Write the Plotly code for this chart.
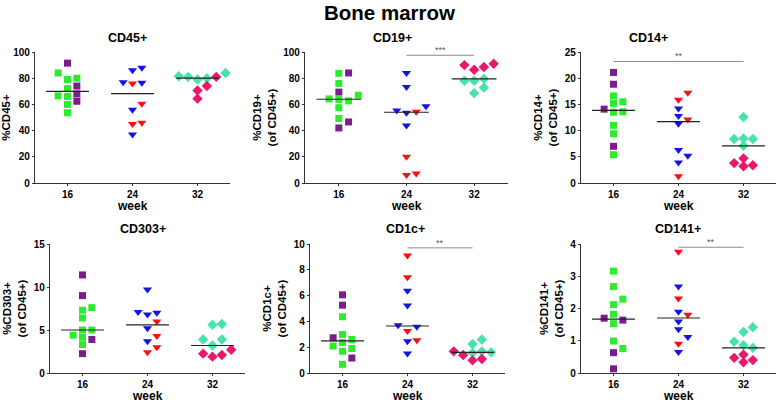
import plotly.graph_objects as go

weeks = ["16", "24", "32"]

# CD45+
cd45_w16_purple = [91.5, 74, 68, 62.4]
cd45_w16_green = [84, 80, 79, 72, 66, 66.5, 60, 53.6]
cd45_w24_blue = [86, 88, 76.5, 77, 56, 37]
cd45_w24_red = [76, 60.5, 46, 45]
cd45_w32_aqua = [81.5, 79, 81, 80, 84]
cd45_w32_pink = [81, 74, 70.6, 64.4]

# CD19+
cd19_w16_purple = [84, 69.4, 46.6, 42]
cd19_w16_green = [83.7, 76, 67, 63.7, 64.2, 62.7, 57.5, 49.2]
cd19_w24_blue = [84, 73.3, 58.5, 53.6, 55.4, 43.8]
cd19_w24_red = [54.4, 20, 6.2, 7.3]
cd19_w32_aqua = [78, 78, 79.5, 72.8, 68.6]
cd19_w32_pink = [90, 86.5, 88.6, 91]

# CD14+
cd14_w16_purple = [21.1, 18.85, 14.1, 7.0]
cd14_w16_green = [16.6, 15.5, 15.2, 13.5, 13.6, 11.0, 9.4, 5.4]
cd14_w24_blue = [14.2, 12.8, 11.3, 6.3, 5.2, 3.9]
cd14_w24_red = [17.2, 15.9, 12.1, 1.3]
cd14_w32_aqua = [12.6, 8.5, 8.4, 8.4, 7.1]
cd14_w32_pink = [4.7, 3.8, 3.2, 3.4]

# CD303+
cd303_w16_purple = [11.4, 9.0, 3.9, 2.25]
cd303_w16_green = [7.6, 7.3, 6.4, 5.0, 5.0, 4.15, 4.4, 3.3]
cd303_w24_blue = [9.7, 7.0, 6.8, 7.1, 5.2, 3.7]
cd303_w24_red = [6.0, 4.3, 3.0, 2.4]
cd303_w32_aqua = [5.6, 5.7, 3.9, 3.9, 3.2]
cd303_w32_pink = [2.25, 1.9, 2.1, 2.7]

# CD1c+
cd1c_w16_purple = [6.06, 5.26, 2.73, 1.16]
cd1c_w16_green = [4.36, 2.99, 2.37, 2.6, 1.9, 1.68, 2.09, 0.67]
cd1c_w24_blue = [6.37, 5.23, 3.71, 3.58, 2.47, 1.52]
cd1c_w24_red = [9.1, 7.42, 3.25, 2.53]
cd1c_w32_aqua = [2.6, 2.24, 1.6, 1.55, 1.68]
cd1c_w32_pink = [1.68, 1.39, 0.98, 1.08]

# CD141+
cd141_w16_purple = [1.64, 1.70, 0.63, 0.13]
cd141_w16_green = [3.16, 2.68, 2.29, 2.12, 1.82, 1.53, 0.99, 0.76]
cd141_w24_blue = [2.68, 1.9, 1.6, 1.36, 1.12, 0.65]
cd141_w24_red = [3.76, 2.31, 1.81, 0.91]
cd141_w32_aqua = [1.42, 1.27, 0.86, 0.97, 0.78]
cd141_w32_pink = [0.47, 0.33, 0.4, 0.57]

panel_titles = ["CD45+", "CD19+", "CD14+", "CD303+", "CD1c+", "CD141+"]
y_titles = ["%CD45+", "%CD19+<br>(of CD45+)", "%CD14+<br>(of CD45+)",
            "%CD303+<br>(of CD45+)", "%CD1c+<br>(of CD45+)", "%CD141+<br>(of CD45+)"]
y_max = [100, 100, 25, 15, 10, 4]
y_dtick = [20, 20, 5, 5, 2, 1]

panels = [
    [(cd45_w16_purple, cd45_w16_green), (cd45_w24_blue, cd45_w24_red), (cd45_w32_aqua, cd45_w32_pink)],
    [(cd19_w16_purple, cd19_w16_green), (cd19_w24_blue, cd19_w24_red), (cd19_w32_aqua, cd19_w32_pink)],
    [(cd14_w16_purple, cd14_w16_green), (cd14_w24_blue, cd14_w24_red), (cd14_w32_aqua, cd14_w32_pink)],
    [(cd303_w16_purple, cd303_w16_green), (cd303_w24_blue, cd303_w24_red), (cd303_w32_aqua, cd303_w32_pink)],
    [(cd1c_w16_purple, cd1c_w16_green), (cd1c_w24_blue, cd1c_w24_red), (cd1c_w32_aqua, cd1c_w32_pink)],
    [(cd141_w16_purple, cd141_w16_green), (cd141_w24_blue, cd141_w24_red), (cd141_w32_aqua, cd141_w32_pink)],
]

# significance bars
sig_panel = [1, 2, 4, 5]
sig_from = [1, 0, 1, 1]
sig_to = [2, 2, 2, 2]
sig_y = [97.5, 23.2, 9.7, 3.9]
sig_label = ["***", "**", "**", "**"]

# ---------- styling / layout ----------
W, H = 778, 403


def fy(px):
    return (H - px) / H


FONT = "Arial, Liberation Sans, sans-serif"
AXC = "#333333"
col_styles = [
    [("square", "#7A1E8C", 7), ("square", "#2EEB2E", 7)],
    [("triangle-down", "#1414E0", 8), ("triangle-down", "#F01414", 8)],
    [("diamond", "#48E3A8", 8), ("diamond", "#E8186C", 8)],
]
px_x = [(35, 230), (305, 508), (581, 776), (50, 245), (310, 505), (581, 776)]
px_y = [(52, 183), (52, 183), (52, 183), (244, 373), (244, 373), (244, 373)]
title_pos = [(128, 38), (392, 38), (648, 38), (143, 229), (405, 229), (678, 229)]
week_y = [206, 206, 206, 396, 396, 396]


def swarm(vals, px_per_y, px_per_x, msize=7.0, step=0.072):
    order = sorted(range(len(vals)), key=lambda i: vals[i])
    placed = []
    offs = [0.0] * len(vals)
    cands = [0]
    for k in range(1, 10):
        cands += [k, -k]
    for i in order:
        ypx = vals[i] * px_per_y
        for k in cands:
            xo = k * step * px_per_x
            if all(not (abs(ypx - py) < msize and abs(xo - pxx) < msize) for pxx, py in placed):
                break
        placed.append((xo, ypx))
        offs[i] = k * step
    return offs


fig = go.Figure()
layout = {}
annotations = []
shapes = []

for p in range(6):
    ax = "" if p == 0 else str(p + 1)
    xref, yref = "x" + ax, "y" + ax
    x0, x1 = px_x[p]
    ytop, ybot = px_y[p]
    px_per_x = (x1 - x0) / 3.0
    px_per_y = (ybot - ytop) / y_max[p]
    for w in range(3):
        a, b = panels[p][w]
        allv = list(a) + list(b)
        offs = swarm(allv, px_per_y, px_per_x)
        groups = [(a, offs[:len(a)]), (b, offs[len(a):])]
        for g, (vals, of) in enumerate(groups):
            sym, colr, sz = col_styles[w][g]
            fig.add_trace(go.Scatter(
                x=[w + o for o in of], y=vals, mode="markers",
                marker=dict(symbol=sym, color=colr, size=sz, line=dict(width=0)),
                xaxis=xref, yaxis=yref, showlegend=False, cliponaxis=False,
                hoverinfo="y"))
        s = sorted(allv)
        n = len(s)
        med = s[n // 2] if n % 2 else (s[n // 2 - 1] + s[n // 2]) / 2
        fig.add_trace(go.Scatter(
            x=[w - 0.33, w + 0.33], y=[med, med], mode="lines",
            line=dict(color="#222222", width=1.2),
            xaxis=xref, yaxis=yref, showlegend=False, hoverinfo="skip"))

    layout["xaxis" + ax] = dict(
        domain=[x0 / W, x1 / W], range=[-0.5, 2.5], anchor=yref,
        tickvals=[0, 1, 2], ticktext=weeks, showline=True, linecolor=AXC,
        linewidth=1.3, ticks="outside", ticklen=2, tickwidth=1, tickcolor=AXC,
        showgrid=False, zeroline=False, automargin=False,
        tickfont=dict(family=FONT, size=10, color="black", weight="bold"))
    layout["yaxis" + ax] = dict(
        domain=[fy(ybot), fy(ytop)], range=[0, y_max[p]], anchor=xref,
        tick0=0, dtick=y_dtick[p], showline=True, linecolor=AXC, linewidth=1.3,
        ticks="outside", ticklen=2, tickwidth=1, tickcolor=AXC,
        showgrid=False, zeroline=False, automargin=False,
        tickfont=dict(family=FONT, size=10, color="black", weight="bold"),
        title=dict(text=y_titles[p], standoff=4,
                   font=dict(family=FONT, size=11.5, color="black", weight="bold")))
    tx, ty = title_pos[p]
    annotations.append(dict(
        text=panel_titles[p], x=tx / W, y=fy(ty), xref="paper", yref="paper",
        showarrow=False, xanchor="center", yanchor="middle",
        font=dict(family=FONT, size=12.5, color="black", weight="bold")))
    annotations.append(dict(
        text="week", x=(x0 + x1) / 2 / W, y=fy(week_y[p]), xref="paper", yref="paper",
        showarrow=False, xanchor="center", yanchor="middle",
        font=dict(family=FONT, size=12, color="black", weight="bold")))

for i in range(len(sig_panel)):
    p = sig_panel[i]
    ax = "" if p == 0 else str(p + 1)
    shapes.append(dict(type="line", xref="x" + ax, yref="y" + ax,
                       x0=sig_from[i], x1=sig_to[i], y0=sig_y[i], y1=sig_y[i],
                       line=dict(color="#8a8a8a", width=1)))
    annotations.append(dict(
        text=sig_label[i], x=(sig_from[i] + sig_to[i]) / 2, y=sig_y[i],
        xref="x" + ax, yref="y" + ax, showarrow=False, yanchor="bottom", yshift=-2,
        font=dict(family=FONT, size=9, color="#555555")))

annotations.append(dict(
    text="Bone marrow", x=0.5, y=fy(13), xref="paper", yref="paper",
    showarrow=False, xanchor="center", yanchor="middle",
    font=dict(family=FONT, size=20.5, color="black", weight="bold")))

fig.update_layout(**layout)
fig.update_layout(
    width=W, height=H, margin=dict(l=0, r=0, t=0, b=0),
    paper_bgcolor="white", plot_bgcolor="white",
    annotations=annotations, shapes=shapes,
    font=dict(family=FONT, color="black"))

fig.write_html("out.html", config={"displayModeBar": False},
               post_script="document.body.style.margin='0';"
                           "document.documentElement.style.overflow='hidden';")
